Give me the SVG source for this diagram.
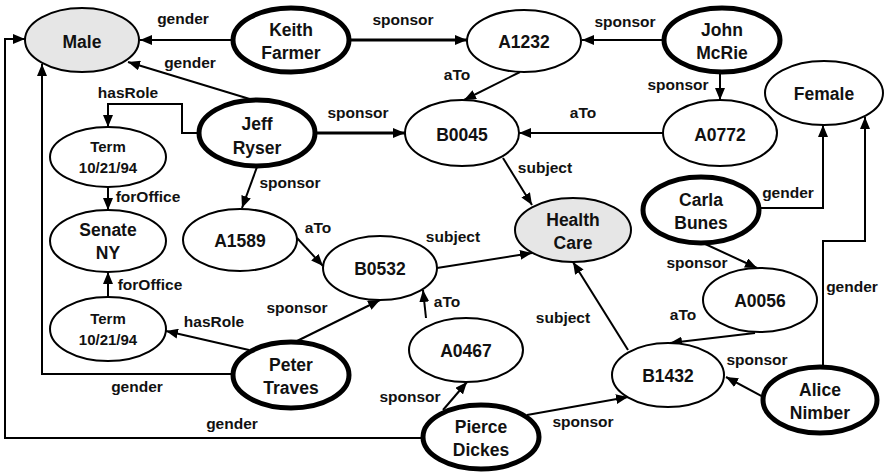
<svg xmlns="http://www.w3.org/2000/svg" width="885" height="475" viewBox="0 0 885 475">
<defs>
<marker id="arr" viewBox="0 0 12 10" refX="12" refY="5" markerWidth="12" markerHeight="10" markerUnits="userSpaceOnUse" orient="auto">
<path d="M0,0 L12,5 L0,10 Z" fill="#000"/>
</marker>
</defs>
<style>
.n{fill:#fff;stroke:#000;stroke-width:2}
.g{fill:#e6e6e6;stroke:#000;stroke-width:2}
.t{fill:#fff;stroke:#000;stroke-width:5}
.e{fill:none;stroke:#000;stroke-width:2;marker-end:url(#arr)}
.w{stroke-width:3}
text{font-family:"Liberation Sans",Arial,sans-serif;font-weight:bold;text-anchor:middle;fill:#111}
.nt{font-size:17.5px}
.st{font-size:15px}
.lb{font-size:15.5px}
</style>
<rect width="885" height="475" fill="#fff"/>
<g id="connectors">
<path class="e" d="M232,40 L140,40"/>
<path class="e w" d="M350,40 L467,40"/>
<path class="e" d="M664,40 L582,40"/>
<path class="e" d="M520,72 L464,100"/>
<path class="e" d="M720,72 L720,100"/>
<path class="e" d="M663,133 L519,133"/>
<path class="e" d="M253,100 L128,62"/>
<path class="e" d="M199,133 L182,133 L182,104 L108,104 L108,127"/>
<path class="e w" d="M315,133 L405,133"/>
<path class="e" d="M257,167 L242,208"/>
<path class="e" d="M108,187 L108,210"/>
<path class="e" d="M108,297 L108,272"/>
<path class="e" d="M297,238 L323,266"/>
<path class="e" d="M437,268 L532,253"/>
<path class="e" d="M503,158 L532,205"/>
<path class="e" d="M249,350 L166,331"/>
<path class="e" d="M295,342 L380,300"/>
<path class="e" d="M233,374 L42,374 L42,64"/>
<path class="e" d="M423,438 L5,438 L5,39 L25,39"/>
<path class="e" d="M426,318 L423,290"/>
<path class="e" d="M443,410 L467,382"/>
<path class="e" d="M527,415 L628,397"/>
<path class="e" d="M628,350 L573,262"/>
<path class="e" d="M703,243 L757,268"/>
<path class="e" d="M755,333 L670,343"/>
<path class="e" d="M765,398 L726,377"/>
<path class="e" d="M759,208 L823,208 L823,125"/>
<path class="e" d="M823,367 L823,241 L865,241 L865,117"/>
</g>
<g id="edge-labels">
<text class="lb" x="183" y="24">gender</text>
<text class="lb" x="403" y="25">sponsor</text>
<text class="lb" x="625" y="27">sponsor</text>
<text class="lb" x="457" y="80">aTo</text>
<text class="lb" x="678" y="90">sponsor</text>
<text class="lb" x="583" y="118">aTo</text>
<text class="lb" x="190" y="68">gender</text>
<text class="lb" x="128" y="98">hasRole</text>
<text class="lb" x="358" y="118">sponsor</text>
<text class="lb" x="290" y="188">sponsor</text>
<text class="lb" x="148" y="202">forOffice</text>
<text class="lb" x="150" y="290">forOffice</text>
<text class="lb" x="318" y="233">aTo</text>
<text class="lb" x="453" y="242">subject</text>
<text class="lb" x="545" y="173">subject</text>
<text class="lb" x="214" y="327">hasRole</text>
<text class="lb" x="297" y="313">sponsor</text>
<text class="lb" x="137" y="392">gender</text>
<text class="lb" x="232" y="429">gender</text>
<text class="lb" x="447" y="307">aTo</text>
<text class="lb" x="410" y="402">sponsor</text>
<text class="lb" x="583" y="427">sponsor</text>
<text class="lb" x="563" y="323">subject</text>
<text class="lb" x="697" y="268">sponsor</text>
<text class="lb" x="683" y="320">aTo</text>
<text class="lb" x="757" y="365">sponsor</text>
<text class="lb" x="788" y="198">gender</text>
<text class="lb" x="852" y="292">gender</text>
</g>
<g id="male"><ellipse class="g" cx="82" cy="40" rx="57" ry="32"/><text class="nt" x="82" y="48">Male</text></g>
<g id="keith"><ellipse class="t" cx="291" cy="40" rx="58" ry="32"/><text class="nt" x="291" y="36">Keith</text><text class="nt" x="291" y="59">Farmer</text></g>
<g id="a1232"><ellipse class="n" cx="524" cy="41" rx="57" ry="31"/><text class="nt" x="524" y="48">A1232</text></g>
<g id="john"><ellipse class="t" cx="722" cy="40" rx="58" ry="32"/><text class="nt" x="722" y="36">John</text><text class="nt" x="722" y="59">McRie</text></g>
<g id="female"><ellipse class="n" cx="824" cy="93" rx="59" ry="32"/><text class="nt" x="824" y="100">Female</text></g>
<g id="a0772"><ellipse class="n" cx="720" cy="133" rx="57" ry="33"/><text class="nt" x="720" y="141">A0772</text></g>
<g id="b0045"><ellipse class="n" cx="462" cy="133" rx="57" ry="33"/><text class="nt" x="462" y="141">B0045</text></g>
<g id="jeff"><ellipse class="t" cx="257" cy="133" rx="58" ry="33"/><text class="nt" x="257" y="130">Jeff</text><text class="nt" x="257" y="154">Ryser</text></g>
<g id="term1"><ellipse class="n" cx="108" cy="157" rx="58" ry="30"/><text class="st" x="108" y="152">Term</text><text class="st" x="108" y="173">10/21/94</text></g>
<g id="senate"><ellipse class="n" cx="108" cy="241" rx="58" ry="31"/><text class="nt" x="108" y="236">Senate</text><text class="nt" x="108" y="259">NY</text></g>
<g id="a1589"><ellipse class="n" cx="240" cy="240" rx="57" ry="31"/><text class="nt" x="240" y="247">A1589</text></g>
<g id="b0532"><ellipse class="n" cx="380" cy="268" rx="57" ry="32"/><text class="nt" x="380" y="275">B0532</text></g>
<g id="healthcare"><ellipse class="g" cx="573" cy="230" rx="58" ry="32"/><text class="nt" x="573" y="226">Health</text><text class="nt" x="573" y="249">Care</text></g>
<g id="carla"><ellipse class="t" cx="701" cy="210" rx="58" ry="33"/><text class="nt" x="701" y="206">Carla</text><text class="nt" x="701" y="229">Bunes</text></g>
<g id="a0056"><ellipse class="n" cx="760" cy="300" rx="57" ry="32"/><text class="nt" x="760" y="307">A0056</text></g>
<g id="term2"><ellipse class="n" cx="108" cy="329" rx="58" ry="32"/><text class="st" x="108" y="324">Term</text><text class="st" x="108" y="345">10/21/94</text></g>
<g id="peter"><ellipse class="t" cx="291" cy="375" rx="58" ry="33"/><text class="nt" x="291" y="371">Peter</text><text class="nt" x="291" y="394">Traves</text></g>
<g id="a0467"><ellipse class="n" cx="466" cy="350" rx="57" ry="32"/><text class="nt" x="466" y="357">A0467</text></g>
<g id="b1432"><ellipse class="n" cx="668" cy="375" rx="56" ry="32"/><text class="nt" x="668" y="382">B1432</text></g>
<g id="alice"><ellipse class="t" cx="820" cy="400" rx="57" ry="33"/><text class="nt" x="820" y="396">Alice</text><text class="nt" x="820" y="419">Nimber</text></g>
<g id="pierce"><ellipse class="t" cx="481" cy="437" rx="58" ry="32"/><text class="nt" x="481" y="433">Pierce</text><text class="nt" x="481" y="456">Dickes</text></g>
</svg>
